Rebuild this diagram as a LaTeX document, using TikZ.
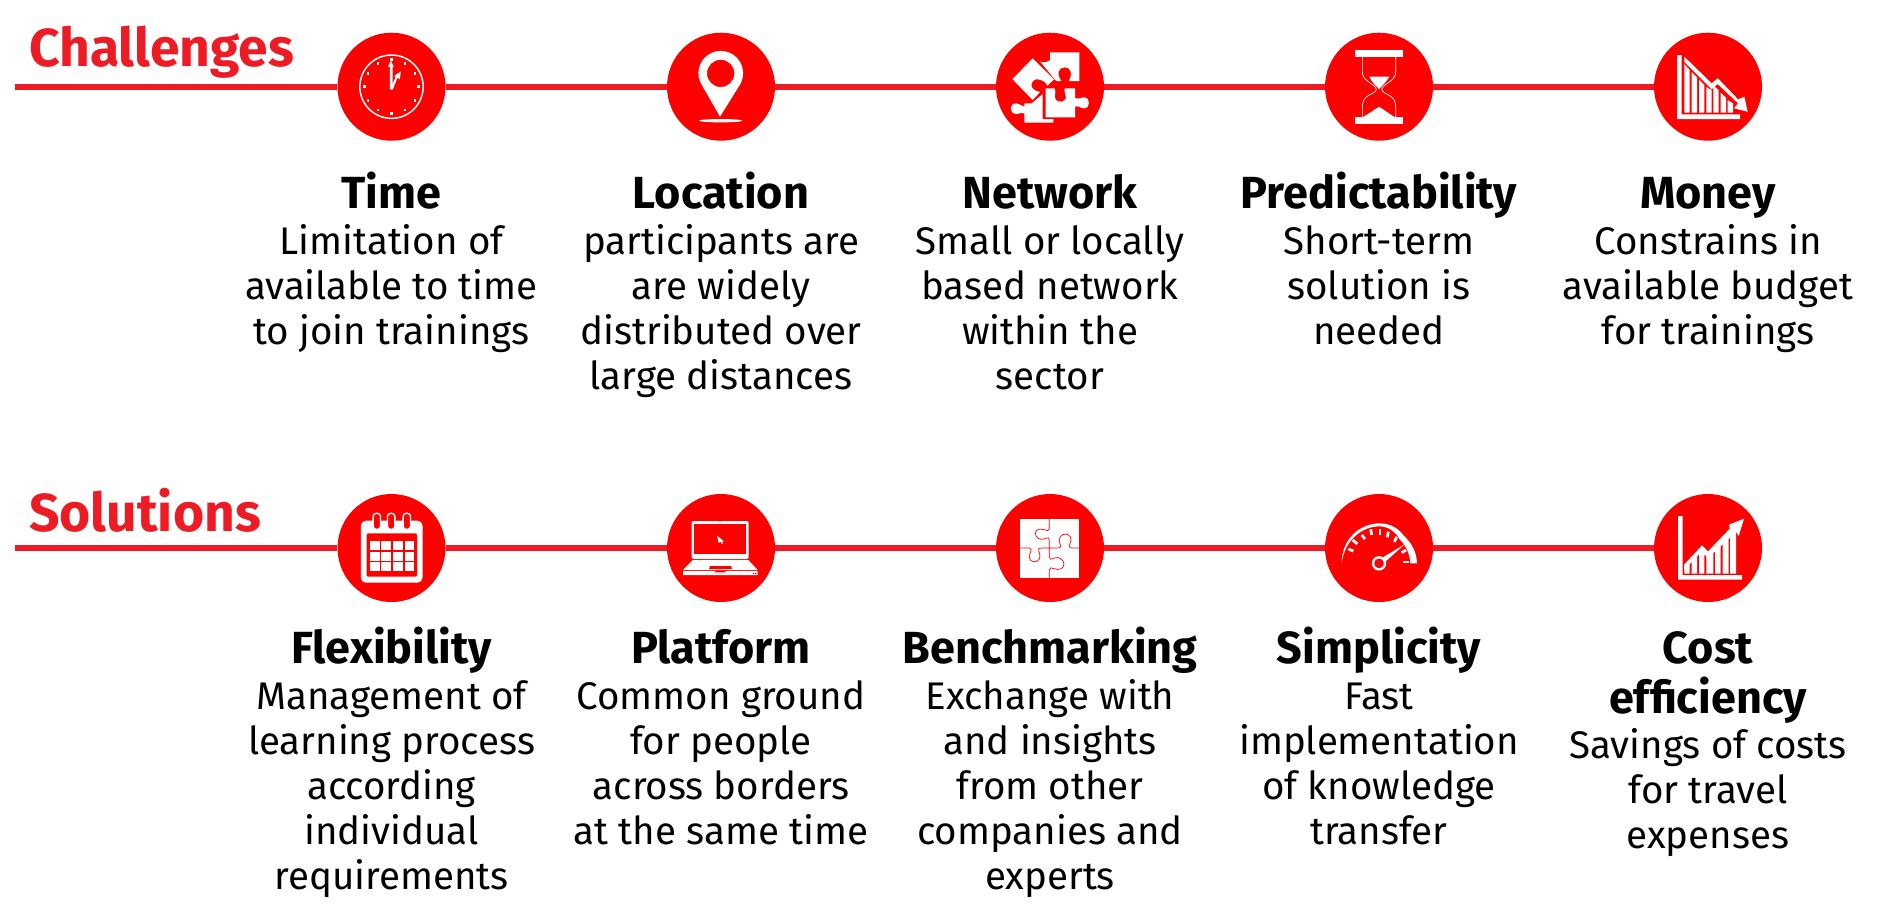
\documentclass[tikz,border=0pt]{standalone}
\usepackage{fontspec}
\setmainfont{Fira Sans}
\definecolor{linered}{HTML}{ED1C24}
\definecolor{dotred}{HTML}{FF0000}
\tikzset{
  spine/.style={draw=linered,line width=6pt},
  badge/.style={circle,fill=dotred,minimum size=108pt,inner sep=0pt},
  rowtitle/.style={text=linered,font=\fontsize{53.4}{56}\selectfont\bfseries,anchor=base west,inner sep=0pt},
  card/.style={align=center,anchor=north,inner sep=0pt,font=\fontsize{38.5}{45}\selectfont},
  ico/.style={x=0.3333pt,y=-0.3333pt,white,fill=white,line cap=butt},
}
\newcommand{\hd}[1]{\rule{0pt}{42pt}{\fontsize{45}{48}\selectfont\bfseries #1}}
\begin{document}
\begin{tikzpicture}[x=1pt,y=-1pt]
\useasboundingbox (0,0) rectangle (1877,919);
\coordinate (s1) at (15,86.7);
\coordinate (s2) at (15,548);
\node[badge] (a1) at (391.5,86.7) {};
\node[badge] (a2) at (721,86.7) {};
\node[badge] (a3) at (1050,86.7) {};
\node[badge] (a4) at (1379,86.7) {};
\node[badge] (a5) at (1708,86.7) {};
\node[badge] (b1) at (391.5,548) {};
\node[badge] (b2) at (721,548) {};
\node[badge] (b3) at (1050,548) {};
\node[badge] (b4) at (1379,548) {};
\node[badge] (b5) at (1708,548) {};
\draw[spine] (s1) -- (a1) (a1) -- (a2) (a2) -- (a3) (a3) -- (a4) (a4) -- (a5);
\draw[spine] (s2) -- (b1) (b1) -- (b2) (b2) -- (b3) (b3) -- (b4) (b4) -- (b5);
\node[rowtitle] (t1) at (29,66) {Challenges};
\node[rowtitle] (t2) at (29,531) {Solutions};
% clock
\begin{scope}[shift={(a1)},ico]
\draw[draw=white,fill=none,line width=1.5pt] (0,0) circle[radius=95];
\foreach \a in {0,30,...,330}{\fill (\a:81) +(-4,-4) rectangle +(4,4);}
\fill (-5,8) -- (-5,-60) -- (-11,-60) -- (-2,-78) -- (7,-60) -- (3,-60) -- (3,8) -- cycle;
\fill (-4,8) -- (11,-26) -- (9,-33) -- (28,-46) -- (25,-22) -- (18,-27) -- (4,8) -- cycle;
\end{scope}
% pin
\begin{scope}[shift={(a2)},ico]
\fill[even odd rule] (-3,90) -- (-57,-4) arc[start angle=147,end angle=393,radius=67] -- cycle (-1,-40) circle[radius=41];
\fill (-1,102) ellipse[x radius=65,y radius=5];
\end{scope}
% scattered puzzle
\begin{scope}[shift={(a3)},ico]
\fill (0,-103) -- (88,-103) -- (88,-17) -- (56,-17) .. controls (70,-40) and (60,-60) .. (44,-58) .. controls (26,-58) and (18,-40) .. (34,-17) -- (20,-17) -- (16,-20) -- (-30,-76) .. controls (-20,-70) and (-5,-75) .. (0,-80) -- cycle;
\fill (-52,-85) -- (12,-22) -- (-8,-3) .. controls (-14,-14) and (-22,-20) .. (-36,-22) .. controls (-56,-24) and (-64,0) .. (-46,10) .. controls (-40,14) and (-35,14) .. (-30,16) -- (-52,40) -- (-113,-23) -- cycle;
\fill (-13,5) -- (14,5) .. controls (20,20) and (10,28) .. (18,40) .. controls (26,48) and (44,46) .. (48,34) .. controls (50,22) and (40,18) .. (44,5) -- (75,5) -- (75,35) .. controls (85,40) and (90,32) .. (102,32) .. controls (122,32) and (122,65) .. (102,65) .. controls (90,65) and (85,55) .. (75,60) -- (75,92) -- (-13,92) -- cycle;
\fill (-77,50) -- (-55,50) -- (-22,22) -- (-22,97) -- (10,97) -- (10,108) -- (-77,108) -- (-77,80) .. controls (-85,75) and (-90,82) .. (-100,82) .. controls (-124,82) and (-124,48) .. (-100,50) .. controls (-90,50) and (-85,60) .. (-77,60) -- cycle;
\end{scope}
% hourglass
\begin{scope}[shift={(a4)},ico]
\fill (-72,-110) rectangle (72,-90);
\fill (-72,92) rectangle (72,112);
\draw[draw=white,fill=none,line width=0.7pt] (-50,-90) -- (-50,-45) .. controls (-50,-15) and (-12,-10) .. (-8,8) .. controls (-12,26) and (-50,20) .. (-50,60) -- (-50,92);
\draw[draw=white,fill=none,line width=0.7pt] (50,-90) -- (50,-45) .. controls (50,-15) and (12,-10) .. (8,8) .. controls (12,26) and (50,20) .. (50,60) -- (50,92);
\fill (-29,-30) -- (31,-30) .. controls (22,-15) and (12,-5) .. (0,7) .. controls (-12,-5) and (-22,-15) .. (-29,-30) -- cycle;
\fill (-49,92) -- (0,60) -- (48,92) -- cycle;
\end{scope}
% falling chart
\begin{scope}[shift={(a5)},ico]
\fill (-93,-95) -- (-79,-95) -- (-79,83) -- (96,83) -- (96,97) -- (-93,97) -- cycle;
\foreach \xa/\xb/\ya/\yb in {-71/-55/-68/-50, -49/-33/-44/-28, -27/-11/-22/-5, -5/11/1/10, 16/32/-3/10, 38/54/18/33, 59/75/40/50}
  {\fill (\xa,78) -- (\xa,\ya) -- (\xb,\yb) -- (\xb,78) -- cycle;}
\fill (-71,-90) -- (11,-10) -- (29,-26) -- (90,38) -- (109,30) -- (119,75) -- (78,65) -- (90,50) -- (29,-8) -- (11,8) -- (-71,-74) -- cycle;
\end{scope}
% calendar
\begin{scope}[shift={(b1)},ico]
\fill[rounded corners=5pt] (-92,-82) rectangle (93,104);
\fill[dotred,rounded corners=2pt] (-75,-44) rectangle (77,86);
\foreach \x in {-65,-31,4,39}\foreach \y in {-21,12,42}{\fill (\x,\y) rectangle +(29,27);}
\foreach \x in {-44,-1,46}{\draw[draw=white,fill=dotred,line width=1.4pt,rounded corners=3pt] (\x-11,-104) rectangle (\x+11,-56);}
\end{scope}
% laptop
\begin{scope}[shift={(b2)},ico]
\fill[rounded corners=2pt] (-88,-81) rectangle (83,33);
\fill[dotred] (-81,-71) rectangle (76,18);
\fill[dotred] (-3,-79) circle[radius=2];
\fill (-12,-37) -- (9,-20) -- (2,-19) -- (7,-13) -- (2,-13) -- (-2,-19) -- (-7,-15) -- cycle;
\fill (-85,36) -- (82,36) -- (110,66) -- (-114,66) -- cycle;
\fill[dotred] (-33,54) -- (30,54) -- (33,63) -- (-36,63) -- cycle;
\fill (-114,69) -- (-18,69) -- (-18,73) -- (14,73) -- (14,69) -- (110,69) -- (110,81) -- (-114,81) -- cycle;
\fill[dotred] (96,75) rectangle (100,78) (102,75) rectangle (106,78);
\end{scope}
% joined puzzle
\begin{scope}[shift={(b3)},ico]
\fill (-90,-87) rectangle (87,90);
\draw[draw=dotred,fill=none,line width=0.7pt]
 (-2,-87) -- (-2,-58) .. controls (-2,-50) and (-10,-52) .. (-18,-55) .. controls (-36,-62) and (-50,-50) .. (-42,-36) .. controls (-36,-22) and (-18,-26) .. (-10,-30) .. controls (-5,-32) and (-2,-30) .. (-2,-22) -- (-2,28)
 .. controls (-2,36) and (4,34) .. (12,30) .. controls (28,24) and (42,36) .. (42,48) .. controls (42,62) and (26,68) .. (12,62) .. controls (6,58) and (-2,58) .. (-2,66) -- (-2,90)
 (-90,0) -- (-62,0) .. controls (-54,0) and (-56,8) .. (-60,16) .. controls (-68,34) and (-54,46) .. (-40,40) .. controls (-26,34) and (-30,18) .. (-34,8) .. controls (-36,3) and (-34,0) .. (-26,0) -- (26,0) .. controls (34,0) and (34,-5) .. (30,-12) .. controls (22,-28) and (34,-42) .. (46,-42) .. controls (60,-42) and (68,-28) .. (60,-14) .. controls (56,-6) and (56,0) .. (64,0) -- (87,0);
\end{scope}
% gauge
\begin{scope}[shift={(b4)},ico]
\fill (-112,46) .. controls (-112,-30) and (-55,-74) .. (2,-74) .. controls (35,-74) and (60,-58) .. (75,-36) .. controls (95,-18) and (113,10) .. (114,46) -- (94,46) .. controls (92,15) and (80,-8) .. (62,-26) .. controls (50,-50) and (25,-65) .. (2,-65) .. controls (-50,-65) and (-103,-25) .. (-112,46) -- cycle;
\foreach \p/\q/\r/\s in {-92/3/-77/9, -79/-24/-65/-12, -52/-39/-42/-27, -25/-56/-22/-39, 3/-57/3/-39, 28/-49/25/-32, 53/-34/46/-18, 81/6/68/14}
 {\draw[draw=white,fill=none,line width=2.8pt] (\p,\q) -- (\r,\s);}
\fill (78,-12) -- (18,42) -- (8,30) -- cycle;
\fill (72,38) rectangle (90,46);
\draw[draw=white,fill=dotred,line width=2.4pt] (0,46) circle[radius=18];
\end{scope}
% rising chart
\begin{scope}[shift={(b5)},ico]
\fill (-90,-96) -- (-76,-96) -- (-76,81) -- (102,81) -- (102,95) -- (-90,95) -- cycle;
\foreach \xa/\xb/\ya/\yb in {-71/-55/60/48, -49/-33/40/26, -27/-11/10/8, -5/16/28/8, 21/38/4/-15, 44/62/-20/-40, 66/84/-45/-62}
  {\fill (\xa,77) -- (\xa,\ya) -- (\xb,\yb) -- (\xb,77) -- cycle;}
\fill (-72,50) -- (-18,-8) -- (0,10) -- (65,-58) -- (63,-70) -- (108,-88) -- (92,-36) -- (84,-48) -- (0,30) -- (-20,12) -- (-72,66) -- cycle;
\end{scope}
% text
\node[card] (c1) at (391.5,166) {\hd{Time}\\[1pt]Limitation of\\available to time\\to join trainings};
\node[card] (c2) at (721,166) {\hd{Location}\\[1pt]participants are\\are widely\\distributed over\\large distances};
\node[card] (c3) at (1050,166) {\hd{Network}\\[1pt]Small or locally\\based network\\within the\\sector};
\node[card] (c4) at (1379,166) {\hd{Predictability}\\[1pt]Short-term\\solution is\\needed};
\node[card] (c5) at (1708,166) {\hd{Money}\\[1pt]Constrains in\\available budget\\for trainings};
\node[card] (d1) at (391.5,621) {\hd{Flexibility}\\[1pt]Management of\\learning process\\according\\individual\\requirements};
\node[card] (d2) at (721,621) {\hd{Platform}\\[1pt]Common ground\\for people\\across borders\\at the same time};
\node[card] (d3) at (1050,621) {\hd{Benchmarking}\\[1pt]Exchange with\\and insights\\from other\\companies and\\experts};
\node[card] (d4) at (1379,621) {\hd{Simplicity}\\[1pt]Fast\\implementation\\of knowledge\\transfer};
\node[card] (d5) at (1708,621) {\hd{Cost}\\[5pt]\hd{efficiency}\\[0pt]Savings of costs\\for travel\\expenses};
\end{tikzpicture}
\end{document}
